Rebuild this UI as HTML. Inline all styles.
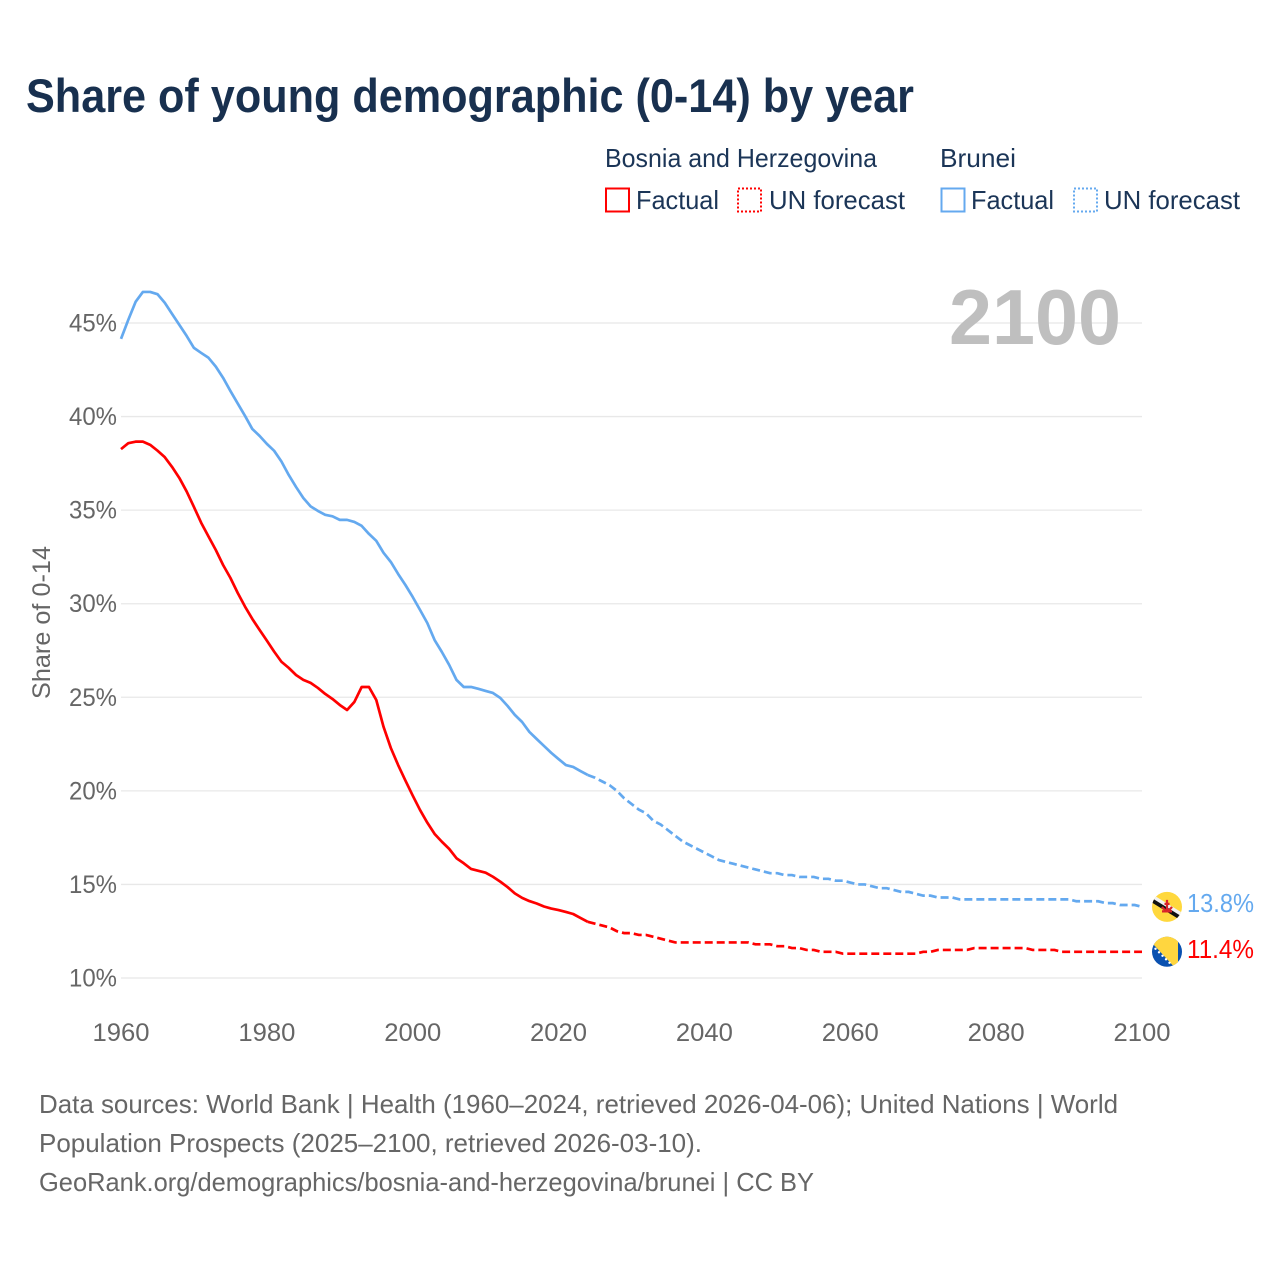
<!DOCTYPE html>
<html lang="en">
<head>
<meta charset="utf-8">
<title>Share of young demographic (0-14) by year</title>
<style>
html,body{margin:0;padding:0;background:#fff;}
svg{display:block;font-family:"Liberation Sans",sans-serif;}
</style>
</head>
<body>
<svg id="chart" xmlns="http://www.w3.org/2000/svg" width="1280" height="1280" viewBox="0 0 1280 1280">
  <defs>
    <clipPath id="flag-clip"><circle cx="0" cy="0" r="15"/></clipPath>
  </defs>
  <rect width="1280" height="1280" fill="#fff"/>
  <text x="26" y="112" font-size="47" font-weight="700" fill="#18304f" textLength="888" lengthAdjust="spacingAndGlyphs">Share of young demographic (0-14) by year</text>

  <g font-size="26" fill="#1b3557">
    <text x="605" y="167" textLength="272" lengthAdjust="spacingAndGlyphs">Bosnia and Herzegovina</text>
    <text x="940" y="167" textLength="76" lengthAdjust="spacingAndGlyphs">Brunei</text>
    <g>
      <rect x="606" y="188.500" width="23" height="23" fill="none" stroke="#ff0000" stroke-width="2"/>
      <text x="636" y="209" textLength="83" lengthAdjust="spacingAndGlyphs">Factual</text>
    </g>
    <g>
      <rect x="738" y="188.500" width="23" height="23" fill="none" stroke="#ff0000" stroke-width="2" stroke-dasharray="2 2"/>
      <text x="769" y="209" textLength="136" lengthAdjust="spacingAndGlyphs">UN forecast</text>
    </g>
    <g>
      <rect x="941.500" y="188.500" width="23" height="23" fill="none" stroke="#64a9ef" stroke-width="2"/>
      <text x="971" y="209" textLength="83" lengthAdjust="spacingAndGlyphs">Factual</text>
    </g>
    <g>
      <rect x="1074" y="188.500" width="23" height="23" fill="none" stroke="#64a9ef" stroke-width="2" stroke-dasharray="2 2"/>
      <text x="1104" y="209" textLength="136" lengthAdjust="spacingAndGlyphs">UN forecast</text>
    </g>
  </g>

  <g id="grid"></g>
  <text x="949" y="344" font-size="78" font-weight="700" fill="#bfbfbf" textLength="172" lengthAdjust="spacingAndGlyphs">2100</text>
  <g id="y-axis" font-size="25" fill="#666"></g>
  <g id="x-axis" font-size="25" fill="#666"></g>
  <text transform="translate(50,699) rotate(-90)" font-size="25" fill="#666" textLength="153" lengthAdjust="spacingAndGlyphs">Share of 0-14</text>
  <g id="series"></g>

  <g id="flag-brunei">
    <g clip-path="url(#flag-clip)">
      <rect x="-16" y="-16" width="32" height="32" fill="#ffd83d"/>
      <polygon points="-17,-14 -17,-9 17,12 17,7" fill="#f2f2f2"/>
      <polygon points="-17,-10 -17,-5.500 17,15.500 17,11" fill="#111"/>
      <path d="M0,-7 V4 M-5,0 Q0,7 5,0 M-2.500,-3 H2.500 M-5,4.500 H5" stroke="#d8232a" stroke-width="2.200" fill="none"/>
    </g>
  </g>
  <g id="flag-bosnia">
    <g clip-path="url(#flag-clip)">
      <rect x="-16" y="-16" width="32" height="32" fill="#0a51b0"/>
      <polygon points="-11,-16 11,-16 11,16 -18,-16" fill="#ffd63f"/>
      <polygon points="-16,-10 -9,-16 11,-16 11,16 8,16" fill="#ffd63f"/>
      <g fill="#fff">
        <circle cx="-11.500" cy="-3" r="1.200"/><circle cx="-8" cy="0.500" r="1.200"/><circle cx="-4.500" cy="4" r="1.200"/>
        <circle cx="-1" cy="7.500" r="1.200"/><circle cx="2.500" cy="11" r="1.200"/>
      </g>
    </g>
  </g>
  <text id="label-brunei" x="1187" font-size="26" fill="#64a9ef" textLength="67" lengthAdjust="spacingAndGlyphs"></text>
  <text id="label-bosnia" x="1187" font-size="26" fill="#ff0000" textLength="67" lengthAdjust="spacingAndGlyphs"></text>

  <g font-size="26" fill="#666">
    <text x="39" y="1113" textLength="1079" lengthAdjust="spacingAndGlyphs">Data sources: World Bank | Health (1960–2024, retrieved 2026-04-06); United Nations | World</text>
    <text x="39" y="1152" textLength="663" lengthAdjust="spacingAndGlyphs">Population Prospects (2025–2100, retrieved 2026-03-10).</text>
    <text x="39" y="1191" textLength="775" lengthAdjust="spacingAndGlyphs">GeoRank.org/demographics/bosnia-and-herzegovina/brunei | CC BY</text>
  </g>
</svg>
<script>
const factualStartYear = 1960;
const forecastStartYear = 2025;
const xTickYears = [1960, 1980, 2000, 2020, 2040, 2060, 2080, 2100];
const yTickValues = [10, 15, 20, 25, 30, 35, 40, 45];
const bosniaFactual = [
  38.26,38.58,38.66,38.66,38.49,38.18,37.83,37.31,36.72,36.00,
  35.17,34.32,33.59,32.87,32.07,31.38,30.58,29.85,29.19,28.60,
  28.03,27.44,26.90,26.57,26.19,25.93,25.77,25.50,25.18,24.91,
  24.59,24.32,24.75,25.55,25.55,24.86,23.42,22.29,21.38,20.55,
  19.75,18.98,18.30,17.70,17.28,16.90,16.40,16.13,15.83,15.73,
  15.63,15.41,15.15,14.86,14.52,14.28,14.11,13.98,13.82,13.71,
  13.63,13.53,13.42,13.21,13.00
];
const bosniaForecast = [
  12.9,12.8,12.7,12.5,12.4,
  12.4,12.3,12.3,12.2,12.1,12.0,11.9,11.9,11.9,11.9,
  11.9,11.9,11.9,11.9,11.9,11.9,11.9,11.8,11.8,11.8,
  11.7,11.7,11.6,11.6,11.5,11.5,11.4,11.4,11.4,11.3,
  11.3,11.3,11.3,11.3,11.3,11.3,11.3,11.3,11.3,11.3,
  11.4,11.4,11.5,11.5,11.5,11.5,11.5,11.6,11.6,11.6,
  11.6,11.6,11.6,11.6,11.6,11.5,11.5,11.5,11.5,11.4,
  11.4,11.4,11.4,11.4,11.4,11.4,11.4,11.4,11.4,11.4,
  11.4
];
const bruneiFactual = [
  44.15,45.17,46.13,46.66,46.66,46.54,46.08,45.49,44.90,44.31,
  43.67,43.40,43.14,42.67,42.07,41.37,40.70,40.04,39.34,38.97,
  38.54,38.17,37.60,36.88,36.24,35.65,35.20,34.96,34.75,34.67,
  34.48,34.48,34.37,34.16,33.73,33.36,32.72,32.23,31.59,31.00,
  30.36,29.67,28.97,28.06,27.42,26.73,25.93,25.55,25.55,25.45,
  25.34,25.23,24.97,24.54,24.06,23.68,23.15,22.77,22.40,22.03,
  21.70,21.38,21.28,21.06,20.85
];
const bruneiForecast = [
  20.7,20.5,20.3,20.0,19.6,
  19.3,19.0,18.8,18.4,18.2,17.9,17.6,17.3,17.1,16.9,
  16.7,16.5,16.3,16.2,16.1,16.0,15.9,15.8,15.7,15.6,
  15.6,15.5,15.5,15.4,15.4,15.4,15.3,15.3,15.2,15.2,
  15.1,15.0,15.0,14.9,14.8,14.8,14.7,14.6,14.6,14.5,
  14.4,14.4,14.3,14.3,14.3,14.2,14.2,14.2,14.2,14.2,
  14.2,14.2,14.2,14.2,14.2,14.2,14.2,14.2,14.2,14.2,
  14.2,14.1,14.1,14.1,14.1,14.0,14.0,13.9,13.9,13.9,
  13.8
];

const NS = 'http://www.w3.org/2000/svg';
const xScale = function (year) { return 121 + (year - 1960) * (1142 - 121) / 140; };
const yScale = function (value) { return 978 - (value - 10) * (978 - 323) / 35; };

const gridGroup = document.getElementById('grid');
const yAxisGroup = document.getElementById('y-axis');
yTickValues.forEach(function (v) {
  const line = document.createElementNS(NS, 'line');
  
  
  line.setAttribute('x1', 121);
  line.setAttribute('x2', 1142);
  line.setAttribute('y1', yScale(v));
  line.setAttribute('y2', yScale(v));
  line.setAttribute('stroke', '#e8e8e8');
  line.setAttribute('stroke-width', '1.300');
  gridGroup.appendChild(line);
  const label = document.createElementNS(NS, 'text');
  
  
  label.setAttribute('x', 69);
  label.setAttribute('y', yScale(v) + 8.5);
  label.setAttribute('textLength', 48);
  label.setAttribute('lengthAdjust', 'spacingAndGlyphs');
  label.textContent = v + '%';
  yAxisGroup.appendChild(label);
});

const xAxisGroup = document.getElementById('x-axis');
xTickYears.forEach(function (yr) {
  const label = document.createElementNS(NS, 'text');
  
  
  label.setAttribute('x', xScale(yr) - 28.5);
  label.setAttribute('y', 1041);
  label.setAttribute('textLength', 57);
  label.setAttribute('lengthAdjust', 'spacingAndGlyphs');
  label.textContent = String(yr);
  xAxisGroup.appendChild(label);
});

function pathFrom(values, startYear, leadYear, leadValue) {
  const pts = [];
  if (leadYear !== null) { pts.push(xScale(leadYear).toFixed(2) + ',' + yScale(leadValue).toFixed(2)); }
  values.forEach(function (v, i) {
    pts.push(xScale(startYear + i).toFixed(2) + ',' + yScale(v).toFixed(2));
  });
  return 'M' + pts.join('L');
}

const seriesGroup = document.getElementById('series');
const strokeRed = '#ff0000';
const strokeBlue = '#64a9ef';

const bruneiFactualLine = document.createElementNS(NS, 'path');


bruneiFactualLine.setAttribute('d', pathFrom(bruneiFactual, factualStartYear, null, 0));
bruneiFactualLine.setAttribute('fill', 'none');
bruneiFactualLine.setAttribute('stroke', strokeBlue);
bruneiFactualLine.setAttribute('stroke-width', '2.700');
bruneiFactualLine.setAttribute('stroke-linejoin', 'round');
seriesGroup.appendChild(bruneiFactualLine);

const bruneiForecastLine = document.createElementNS(NS, 'path');


bruneiForecastLine.setAttribute('d', pathFrom(bruneiForecast, forecastStartYear, forecastStartYear - 1, bruneiFactual[bruneiFactual.length - 1]));
bruneiForecastLine.setAttribute('fill', 'none');
bruneiForecastLine.setAttribute('stroke', strokeBlue);
bruneiForecastLine.setAttribute('stroke-width', '2.700');
bruneiForecastLine.setAttribute('stroke-dasharray', '8 4');
seriesGroup.appendChild(bruneiForecastLine);

const bosniaFactualLine = document.createElementNS(NS, 'path');


bosniaFactualLine.setAttribute('d', pathFrom(bosniaFactual, factualStartYear, null, 0));
bosniaFactualLine.setAttribute('fill', 'none');
bosniaFactualLine.setAttribute('stroke', strokeRed);
bosniaFactualLine.setAttribute('stroke-width', '2.700');
bosniaFactualLine.setAttribute('stroke-linejoin', 'round');
seriesGroup.appendChild(bosniaFactualLine);

const bosniaForecastLine = document.createElementNS(NS, 'path');


bosniaForecastLine.setAttribute('d', pathFrom(bosniaForecast, forecastStartYear, forecastStartYear - 1, bosniaFactual[bosniaFactual.length - 1]));
bosniaForecastLine.setAttribute('fill', 'none');
bosniaForecastLine.setAttribute('stroke', strokeRed);
bosniaForecastLine.setAttribute('stroke-width', '2.700');
bosniaForecastLine.setAttribute('stroke-dasharray', '8 4');
seriesGroup.appendChild(bosniaForecastLine);

const bruneiEnd = bruneiForecast[bruneiForecast.length - 1];
const bosniaEnd = bosniaForecast[bosniaForecast.length - 1];
document.getElementById('flag-brunei').setAttribute('transform', 'translate(1167,' + yScale(bruneiEnd) + ')');
document.getElementById('flag-bosnia').setAttribute('transform', 'translate(1167,' + yScale(bosniaEnd) + ')');
const bruneiLabel = document.getElementById('label-brunei');
bruneiLabel.setAttribute('y', yScale(bruneiEnd) + 5);
bruneiLabel.textContent = bruneiEnd.toFixed(1) + '%';
const bosniaLabel = document.getElementById('label-bosnia');
bosniaLabel.setAttribute('y', yScale(bosniaEnd) + 6);
bosniaLabel.textContent = bosniaEnd.toFixed(1) + '%';
</script>
</body>
</html>
